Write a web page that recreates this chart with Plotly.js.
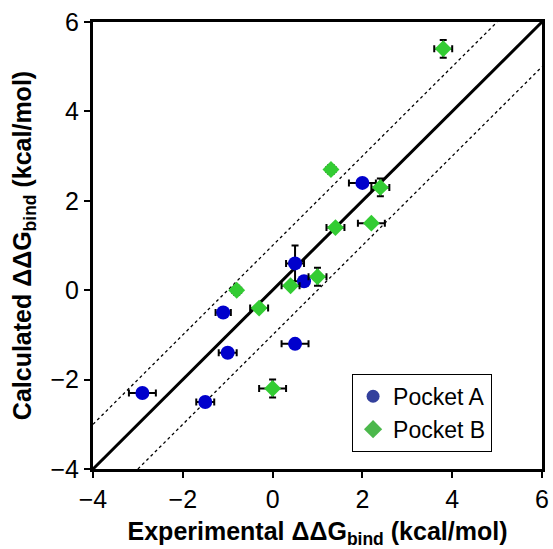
<!DOCTYPE html>
<html><head><meta charset="utf-8">
<script src="https://cdn.plot.ly/plotly-3.0.1.min.js"></script>
<style>body{margin:0;background:#fff}#c{width:553px;height:549px}</style>
</head><body><div id="c"></div>
<script>
// Pocket A
const aExp  = [2.0, 0.5, 0.7, -1.1, 0.5, -1.0, -2.9, -1.5];
const aCalc = [2.4, 0.6, 0.2, -0.5, -1.2, -1.4, -2.3, -2.5];
const aErrX = [0.3, 0.2, 0.1, 0.17, 0.3, 0.2, 0.3, 0.2];
const aErrY = [0, 0.4, 0, 0, 0, 0, 0, 0];
// Pocket B
const bExp  = [3.8, 1.3, 2.4, 2.2, 1.4, 1.0, 0.4, -0.8, -0.3, 0.0];
const bCalc = [5.4, 2.7, 2.3, 1.5, 1.4, 0.3, 0.1, 0.0, -0.4, -2.2];
const bErrX = [0.2, 0.1, 0.2, 0.3, 0.2, 0.2, 0.2, 0.1, 0.2, 0.3];
const bErrY = [0.2, 0.1, 0.2, 0, 0, 0.2, 0, 0.1, 0, 0.2];
// reference lines
const lineX = [-4, 6];
const diagY = [-4, 6];
const upX = [-4, 5];
const upY = [-3, 6];
const loX = [-3, 6];
const loY = [-4, 5];

const eb = (arr) => ({type:'data', array:arr, visible:true, color:'#000', thickness:2, width:3.5});
const traces = [
  {x:upX, y:upY, mode:'lines', line:{color:'#000', width:1.3, dash:'dot'}, showlegend:false, hoverinfo:'skip'},
  {x:loX, y:loY, mode:'lines', line:{color:'#000', width:1.3, dash:'dot'}, showlegend:false, hoverinfo:'skip'},
  {x:lineX, y:diagY, mode:'lines', line:{color:'#000', width:3}, showlegend:false, hoverinfo:'skip'},
  {x:aExp, y:aCalc, mode:'markers', name:'Pocket A', showlegend:false,
   marker:{symbol:'circle', size:14, color:'#0000cc'}, error_x:eb(aErrX), error_y:eb(aErrY)},
  {x:bExp, y:bCalc, mode:'markers', name:'Pocket B', showlegend:false,
   marker:{symbol:'diamond', size:13, color:'#33cc33'}, error_x:eb(bErrX), error_y:eb(bErrY)},
  {x:[null], y:[null], mode:'markers', name:'Pocket A', marker:{symbol:'circle', size:13, color:'#33409c'}},
  {x:[null], y:[null], mode:'markers', name:'Pocket B', marker:{symbol:'diamond', size:14, color:'#4cb84c'}}
];
const font = {family:'Liberation Sans, Arial, sans-serif', color:'#000'};
const axis = (title, standoff) => ({
  range:[-4,6], dtick:2, tick0:-4, ticks:'outside', ticklen:6, tickwidth:2, tickcolor:'#000',
  showline:true, linewidth:3, linecolor:'#000', mirror:true, showgrid:false, zeroline:false,
  tickfont:{...font, size:25}, title:{text:title, font:{...font, size:25, weight:'bold'}, standoff:standoff},
  fixedrange:true
});
const layout = {
  width:553, height:549, margin:{l:93, r:11, t:22, b:80},
  paper_bgcolor:'#fff', plot_bgcolor:'#fff', font:font,
  xaxis: axis('<b>Experimental ΔΔG<sub>bind</sub> (kcal/mol)</b>', 12),
  yaxis: axis('<b>Calculated ΔΔG<sub>bind</sub> (kcal/mol)</b>', 12),
  legend:{x:0.577, y:0.213, xanchor:'left', yanchor:'top', bordercolor:'#000', borderwidth:1,
    bgcolor:'#fff', font:{...font, size:23}, tracegroupgap:0, itemwidth:30}
};
Plotly.newPlot('c', traces, layout, {displayModeBar:false, staticPlot:true});
</script></body></html>
